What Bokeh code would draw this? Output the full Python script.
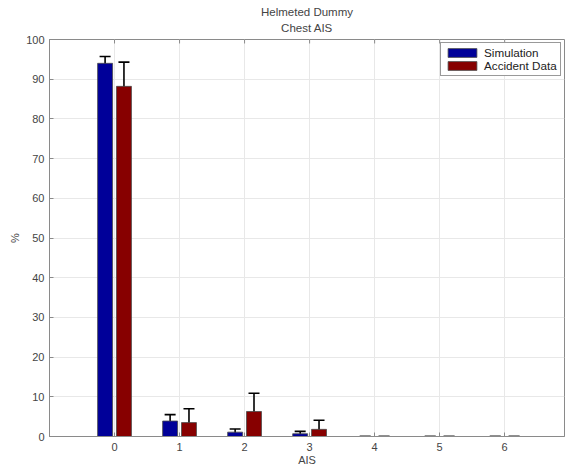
from bokeh.plotting import figure
from bokeh.models import (ColumnDataSource, Whisker, TeeHead, FixedTicker, Title,
                          Legend, LegendItem, Range1d)
from bokeh.transform import dodge
from bokeh.embed import file_html
from bokeh.resources import INLINE

ais = [0, 1, 2, 3, 4, 5, 6]
sim = [94.0, 3.9, 1.1, 0.7, 0.0, 0.0, 0.0]
sim_err = [1.7, 1.6, 0.8, 0.6, 0.0, 0.0, 0.0]
acc = [88.2, 3.5, 6.3, 1.8, 0.0, 0.0, 0.0]
acc_err = [6.1, 3.5, 4.6, 2.3, 0.0, 0.0, 0.0]
y_ticks = [0, 10, 20, 30, 40, 50, 60, 70, 80, 90, 100]
title_lines = ["Helmeted Dummy", "Chest AIS"]

src = ColumnDataSource(dict(
    ais=ais, sim=sim, acc=acc,
    sim_lo=[v - e for v, e in zip(sim, sim_err)],
    sim_hi=[v + e for v, e in zip(sim, sim_err)],
    acc_lo=[v - e for v, e in zip(acc, acc_err)],
    acc_hi=[v + e for v, e in zip(acc, acc_err)],
    top=[100] * len(ais), tick_end=[99] * len(ais),
))

FONT = "Liberation Sans"
TXT = "#444444"
AX = "#8a8a8a"

p = figure(width=565, height=468, output_backend="svg", toolbar_location=None,
           x_range=Range1d(-1, 6.92), y_range=Range1d(0, 100),
           title=title_lines[0],
           min_border_left=49, min_border_right=1, min_border_top=39, min_border_bottom=32)

p.title.align = "center"
p.title.text_font = FONT
p.title.text_font_size = "11.5px"
p.title.text_font_style = "normal"
p.title.text_color = TXT
p.title.standoff = 0
p.title.offset = 0
t2 = Title(text=title_lines[1], align="center", vertical_align="top",
           text_font=FONT, text_font_size="11.5px",
           text_font_style="normal", text_color=TXT, standoff=8)
p.add_layout(t2, "above")

bw = 0.23
r1 = p.vbar(x=dodge("ais", -0.145, range=p.x_range), top="sim", bottom=0, width=bw,
            source=src, fill_color="#000099", line_color="#4a4a4a", line_width=0.8)
r2 = p.vbar(x=dodge("ais", 0.145, range=p.x_range), top="acc", bottom=0, width=bw,
            source=src, fill_color="#870000", line_color="#4a4a4a", line_width=0.8)

for key, off in (("sim", -0.145), ("acc", 0.145)):
    w = Whisker(base=dodge("ais", off, range=p.x_range), lower=key + "_lo", upper=key + "_hi",
                source=src, line_color="black", line_width=1.6,
                upper_head=TeeHead(size=11, line_color="black", line_width=1.6),
                lower_head=TeeHead(size=11, line_color="black", line_width=1.6))
    p.add_layout(w)

# top-edge tick marks (MATLAB box style)
p.segment(x0="ais", y0="top", x1="ais", y1="tick_end", source=src,
          line_color=AX, line_width=1)

for ax in (p.xaxis[0], p.yaxis[0]):
    ax.major_tick_in = 4
    ax.major_tick_out = 0
    ax.minor_tick_in = 0
    ax.minor_tick_out = 0
    ax.axis_line_color = AX
    ax.major_tick_line_color = AX
    ax.major_label_text_font = FONT
    ax.major_label_text_font_size = "11px"
    ax.major_label_text_color = TXT
    ax.axis_label_text_font = FONT
    ax.axis_label_text_font_size = "11px"
    ax.axis_label_text_font_style = "normal"
    ax.axis_label_text_color = TXT

p.xaxis.ticker = FixedTicker(ticks=ais)
p.yaxis.ticker = FixedTicker(ticks=y_ticks)
p.xaxis.axis_label = "AIS"
p.yaxis.axis_label = "%"
p.xaxis.major_label_standoff = 6
p.xaxis.axis_label_standoff = 0
p.yaxis.major_label_standoff = 5
p.yaxis.axis_label_standoff = 2

p.grid.grid_line_color = "#e8e8e8"
p.grid.grid_line_width = 1
p.outline_line_color = AX
p.background_fill_color = "white"
p.border_fill_color = "white"

legend = Legend(items=[LegendItem(label="Simulation", renderers=[r1]),
                       LegendItem(label="Accident Data", renderers=[r2])],
                location=(391, 360), glyph_width=36, glyph_height=11,
                label_text_font=FONT, label_text_font_size="11.7px", label_text_color="#222222",
                border_line_color="#333333", border_line_width=1,
                padding=3, spacing=0, margin=0, label_standoff=4, label_height=12)
p.add_layout(legend)

open("out.html", "w").write(file_html(p, INLINE))
